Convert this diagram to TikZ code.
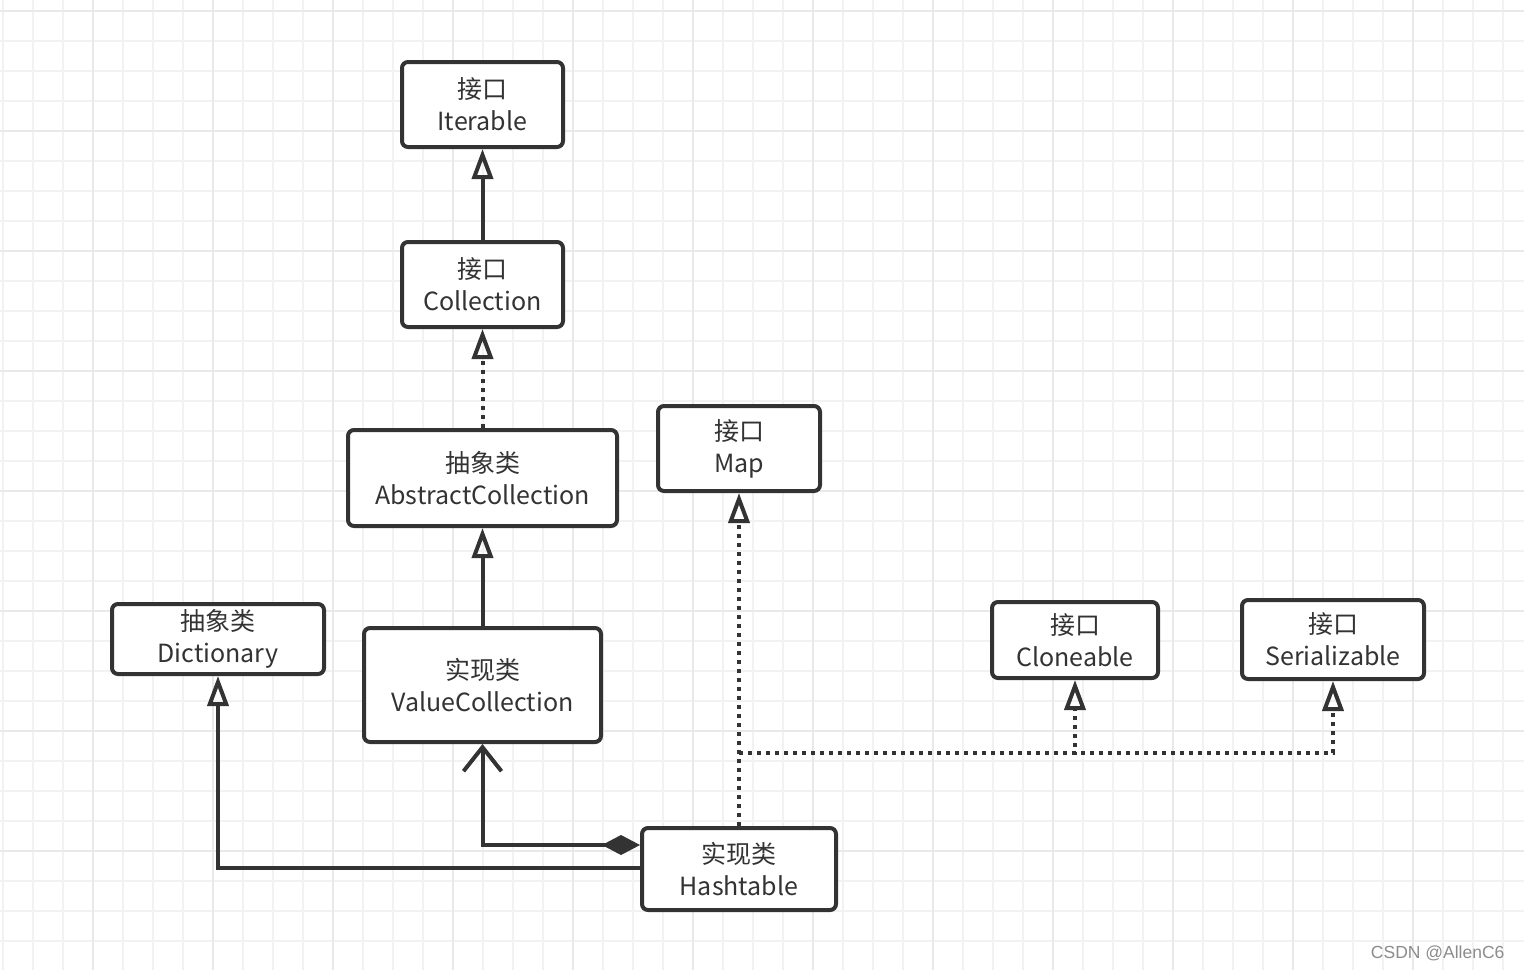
\documentclass[tikz,border=0pt]{standalone}
\usepackage{fontspec}
\setmainfont{Noto Sans CJK SC}
\newfontfamily\markfont{Liberation Sans}
\usetikzlibrary{arrows.meta}
\definecolor{linec}{HTML}{333333}
\definecolor{gridminor}{HTML}{F2F2F2}
\definecolor{gridmajor}{HTML}{E9E9E9}
\tikzset{
  cls/.style={draw=linec, line width=4pt, rounded corners=6pt, fill=white,
    inner sep=0pt, align=center, text=linec, font=\fontsize{25pt}{32pt}\selectfont},
  inherit/.style={draw=linec, line width=4pt, -{Triangle[open,length=30pt,width=21pt]}},
  realize/.style={inherit, dash pattern=on 4pt off 5pt},
  compose/.style={draw=linec, line width=4pt,
    {Diamond[length=38pt,width=20pt]}-{Straight Barb[length=24pt,width=38pt]}}
}
\begin{document}
\begin{tikzpicture}[x=1pt,y=-1pt]
  \useasboundingbox (0,0) rectangle (1524,970);
  % Background grid
  \fill[white] (0,0) rectangle (1524,970);
  \foreach \x in {3,33,...,1523} \draw[gridminor,line width=2pt] (\x,0) -- (\x,970);
  \foreach \y in {11,41,...,969} \draw[gridminor,line width=2pt] (0,\y) -- (1524,\y);
  \foreach \x in {93,213,...,1523} \draw[gridmajor,line width=2pt] (\x,0) -- (\x,970);
  \foreach \y in {11,131,...,969} \draw[gridmajor,line width=2pt] (0,\y) -- (1524,\y);

  % Classes and interfaces
  \node[cls, minimum width=161pt, minimum height=85pt] (iter) at (482.5,104.5) {接口\\Iterable};
  \node[cls, minimum width=161pt, minimum height=85pt] (coll) at (482.5,284.5) {接口\\Collection};
  \node[cls, minimum width=269pt, minimum height=96pt] (abscoll) at (482.5,478) {抽象类\\AbstractCollection};
  \node[cls, minimum width=162pt, minimum height=85pt] (map) at (739,448.5) {接口\\Map};
  \node[cls, minimum width=212pt, minimum height=70pt] (dict) at (218,639) {抽象类\\Dictionary};
  \node[cls, minimum width=237pt, minimum height=114pt] (valcoll) at (482.5,685) {实现类\\ValueCollection};
  \node[cls, minimum width=166pt, minimum height=76pt] (clone) at (1075,640) {接口\\Cloneable};
  \node[cls, minimum width=182pt, minimum height=79pt] (serial) at (1333,639.5) {接口\\Serializable};
  \node[cls, minimum width=194pt, minimum height=82pt] (hash) at (739,869) {实现类\\Hashtable};

  % Relations
  \draw[inherit] (coll) -- (iter);
  \draw[realize] (abscoll) -- (coll);
  \draw[inherit] (valcoll) -- (abscoll);
  \draw[compose] ([yshift=24pt]hash.west) -| (valcoll.south);
  \draw[inherit] ([yshift=1pt]hash.west) -| (dict.south);
  \draw[realize] (hash) -- (map);
  \coordinate (split) at (739,753);
  \draw[realize] (split) -| (clone);
  \draw[realize] (split) -| (serial);

  \node[anchor=east, text=black!45, font=\markfont\fontsize{17.5pt}{20pt}\selectfont] (mark) at (1508,953) {CSDN @AllenC6};
\end{tikzpicture}
\end{document}
